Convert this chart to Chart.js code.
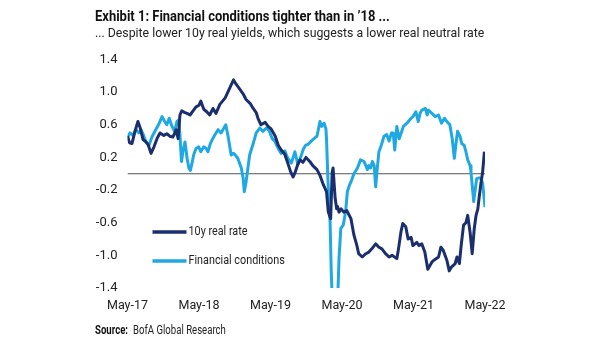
<!DOCTYPE html>
<html lang="en">
<head>
    <meta charset="UTF-8">
    <title>Exhibit 1: Financial conditions tighter than in '18</title>
    <script src="https://cdn.jsdelivr.net/npm/chart.js"></script>
    <style>
        html, body { margin: 0; padding: 0; background: #ffffff; }
        #wrap { width: 605px; height: 341px; position: relative; }
    </style>
</head>
<body>
    <div id="wrap"><canvas id="chart"></canvas></div>

    <script>
        // x = months since May-2017
        const tickMonths = [0, 12, 24, 36, 48, 60];
        const tickLabels = ['May-17', 'May-18', 'May-19', 'May-20', 'May-21', 'May-22'];
        const yTicks = [-1.4, -1.0, -0.6, -0.2, 0.2, 0.6, 1.0, 1.4];

        // 10y real rate
        const rateMonths = [0,0.35,0.75,1.25,1.75,2.1,2.6,3.1,3.45,3.95,4.45,4.95,5.45,6.1,6.6,7.1,7.6,7.95,8.15,8.5,8.8,9.1,9.65,10.0,10.5,11.0,11.5,12.0,12.3,12.8,13.3,13.8,14.35,14.85,15.5,16.4,16.9,17.4,17.8,18.2,18.9,19.4,19.9,20.6,21.1,21.6,21.9,22.4,23.1,23.6,24.1,24.8,25.3,25.8,26.4,26.9,27.4,27.8,28.1,28.6,28.95,29.45,29.95,30.6,31.1,31.8,32.3,32.9,33.4,33.7,34.1,34.35,34.5,34.85,35.1,35.25,35.5,35.85,36.3,36.8,37.5,38.0,38.5,38.8,39.4,40.0,40.5,41.0,41.65,42.2,42.7,43.3,43.9,44.4,45.2,45.4,45.9,46.2,46.7,47.1,47.6,47.9,48.55,48.9,49.4,49.9,50.4,51.1,51.6,52.2,52.6,53.0,53.6,54.0,54.4,55.0,55.3,55.7,56.0,56.4,56.8,57.1,57.5,57.85,58.2,58.5,58.8,59.0,59.35,59.6,59.9];
        const rateValues = [0.46,0.38,0.37,0.52,0.64,0.57,0.42,0.39,0.36,0.25,0.33,0.43,0.50,0.47,0.49,0.46,0.45,0.50,0.54,0.43,0.72,0.77,0.75,0.74,0.72,0.77,0.82,0.84,0.89,0.79,0.76,0.72,0.80,0.74,0.85,0.93,1.01,1.09,1.15,1.10,1.03,0.98,0.91,0.86,0.80,0.75,0.68,0.60,0.63,0.58,0.55,0.46,0.35,0.29,0.24,0.13,0.02,-0.04,0.01,0.12,0.17,0.14,0.20,0.15,0.10,0.05,-0.02,-0.14,-0.22,-0.47,-0.55,0.02,0.07,-0.30,-0.43,-0.40,-0.47,-0.43,-0.47,-0.45,-0.55,-0.75,-0.88,-0.98,-1.02,-0.98,-0.96,-0.92,-0.86,-0.90,-0.92,-0.98,-1.02,-1.00,-1.04,-0.96,-0.71,-0.61,-0.65,-0.80,-0.78,-0.88,-0.84,-0.88,-0.86,-0.96,-1.17,-1.08,-1.05,-1.02,-0.90,-0.94,-1.06,-1.19,-1.14,-1.10,-1.02,-1.10,-0.88,-0.63,-0.60,-0.51,-0.72,-0.98,-0.67,-0.51,-0.43,-0.30,-0.10,0.02,0.27];

        // Financial conditions
        const fciMonths = [0,0.42,0.92,1.43,1.93,2.27,2.7,3.1,3.56,4.1,4.6,5.2,5.8,6.24,6.6,7.0,7.47,7.9,8.3,8.6,8.8,9.06,9.3,9.65,10.0,10.3,10.55,10.8,11.1,11.5,11.95,12.3,12.8,13.2,13.5,13.9,14.3,14.7,15.2,15.7,16.5,16.9,17.4,17.8,18.2,18.5,19.1,19.4,19.6,19.9,20.5,21.1,21.6,22.2,22.7,23.3,23.75,24.3,24.7,25.3,25.8,26.4,26.9,27.5,28.1,28.6,29.1,29.5,29.9,30.3,30.7,31.3,31.8,32.3,32.6,33.0,33.3,33.4,33.65,34.0,34.2,34.4,34.85,35.25,35.5,35.8,36.2,36.6,36.9,37.2,37.5,37.7,38.0,38.6,39.1,39.7,40.0,40.25,40.5,40.8,41.1,41.4,41.65,41.9,42.2,42.6,43.05,43.5,43.9,44.3,44.6,44.85,45.2,45.6,46.3,46.9,47.6,47.9,48.4,48.8,49.1,49.4,50.0,50.3,50.5,51.1,51.65,52.2,52.7,53.2,53.6,54.1,54.5,54.85,55.1,55.4,55.8,56.1,56.5,56.8,57.1,57.5,57.65,57.9,58.1,58.35,58.6,59.0,59.35,59.6,59.8,60.0];
        const fciValues = [0.45,0.50,0.47,0.54,0.50,0.54,0.47,0.39,0.34,0.45,0.52,0.60,0.70,0.64,0.60,0.68,0.58,0.52,0.64,0.66,0.48,0.15,0.27,0.39,0.19,0.07,0.04,0.12,0.23,0.31,0.33,0.27,0.33,0.31,0.27,0.37,0.43,0.48,0.54,0.50,0.60,0.45,0.23,0.25,0.22,0.19,0.07,-0.05,-0.22,-0.10,0.23,0.37,0.50,0.56,0.52,0.56,0.53,0.43,0.40,0.31,0.25,0.28,0.19,0.13,0.27,0.11,0.21,0.30,0.35,0.36,0.39,0.43,0.46,0.64,0.58,0.62,0.55,0.43,-0.10,-0.59,-1.21,-1.60,-1.80,-1.60,-1.04,-0.67,-0.63,-0.47,-0.22,-0.15,-0.10,-0.06,0.00,0.07,0.17,0.15,0.10,0.05,0.10,0.07,0.15,0.10,-0.16,0.05,0.27,0.35,0.46,0.48,0.40,0.50,0.50,0.29,0.58,0.43,0.58,0.62,0.68,0.70,0.76,0.64,0.74,0.78,0.80,0.72,0.78,0.74,0.70,0.72,0.62,0.68,0.64,0.60,0.43,0.19,0.35,0.52,0.46,0.37,0.35,0.27,0.17,0.10,0.02,-0.18,-0.34,-0.20,-0.06,-0.05,-0.06,-0.12,-0.26,-0.41];

        const FONT = 'Roboto, "Noto Sans", sans-serif';
        const DARK = '#1b2f6e';
        const LIGHT = '#1fa8e1';

        const toPoints = (xs, ys) => xs.map((x, i) => ({ x: x, y: ys[i] }));

        // condensed-looking text: draw squeezed horizontally
        function narrowText(ctx, text, x, y, font, color, squeeze) {
            ctx.save();
            ctx.font = font;
            ctx.fillStyle = color;
            ctx.textBaseline = 'middle';
            ctx.translate(x, y);
            ctx.scale(squeeze, 1);
            ctx.fillText(text, 0, 0);
            const w = ctx.measureText(text).width * squeeze;
            ctx.restore();
            return w;
        }

        // title, subtitle and source
        const captions = {
            id: 'captions',
            afterDraw(chart) {
                const ctx = chart.ctx;
                narrowText(ctx, "Exhibit 1: Financial conditions tighter than in \u201918 ...", 95, 17,
                    'bold 14.5px ' + FONT, '#111', 0.895);
                narrowText(ctx, '... Despite lower 10y real yields, which suggests a lower real neutral rate', 95, 34,
                    '13.5px ' + FONT, '#222', 0.91);
                const w = narrowText(ctx, 'Source:', 95, 331, 'bold 12px ' + FONT, '#111', 0.8);
                narrowText(ctx, 'BofA Global Research', 95 + w + 5, 331, '12px ' + FONT, '#222', 0.8);
            }
        };

        // legend drawn inside the plot, lower left
        const innerLegend = {
            id: 'innerLegend',
            afterDatasetsDraw(chart) {
                const { ctx, chartArea } = chart;
                const items = chart.data.datasets.filter(d => d.showInLegend);
                items.forEach((d, i) => {
                    const y = chartArea.top + 172.5 + i * 29;
                    const x = chartArea.left + 25;
                    ctx.save();
                    ctx.strokeStyle = d.borderColor;
                    ctx.lineWidth = 3.5;
                    ctx.beginPath();
                    ctx.moveTo(x, y);
                    ctx.lineTo(x + 34, y);
                    ctx.stroke();
                    ctx.restore();
                    narrowText(ctx, d.label, x + 36, y, '13.5px ' + FONT, '#222', 0.8);
                });
            }
        };

        new Chart(document.getElementById('chart'), {
            type: 'line',
            data: {
                datasets: [
                    {
                        label: '10y real rate',
                        data: toPoints(rateMonths, rateValues),
                        borderColor: DARK,
                        borderWidth: 3,
                        order: 0,
                        showInLegend: true
                    },
                    {
                        label: 'Financial conditions',
                        data: toPoints(fciMonths, fciValues),
                        borderColor: LIGHT,
                        borderWidth: 3,
                        order: 1,
                        showInLegend: true
                    },
                    {
                        label: 'zero',
                        data: [{ x: 0, y: 0 }, { x: 60, y: 0 }],
                        borderColor: '#555555',
                        borderWidth: 1,
                        order: 2
                    }
                ]
            },
            options: {
                responsive: true,
                maintainAspectRatio: false,
                animation: false,
                layout: { padding: { left: 95.5, right: 120, top: 59.5, bottom: 23 } },
                elements: {
                    point: { radius: 0 },
                    line: { tension: 0, borderJoinStyle: 'round' }
                },
                scales: {
                    x: {
                        type: 'linear',
                        min: 0,
                        max: 60,
                        grid: { display: false, drawTicks: false },
                        border: { display: false },
                        afterFit: s => { s.height = 30; },
                        afterBuildTicks: s => { s.ticks = tickMonths.map(v => ({ value: v })); },
                        ticks: {
                            autoSkip: false,
                            maxRotation: 0,
                            padding: 10,
                            color: '#222',
                            font: { family: FONT, size: 12.5 },
                            callback: v => tickLabels[tickMonths.indexOf(v)]
                        }
                    },
                    y: {
                        min: -1.4,
                        max: 1.4,
                        grid: { display: false, drawTicks: false },
                        border: { display: false },
                        afterFit: s => { s.width = 32; },
                        afterBuildTicks: s => { s.ticks = yTicks.map(v => ({ value: v })); },
                        ticks: {
                            padding: 10,
                            color: '#222',
                            font: { family: FONT, size: 13 },
                            callback: v => v.toFixed(1)
                        }
                    }
                },
                plugins: {
                    legend: { display: false },
                    tooltip: { enabled: false },
                    title: { display: false }
                }
            },
            plugins: [innerLegend, captions]
        });
    </script>
</body>
</html>
